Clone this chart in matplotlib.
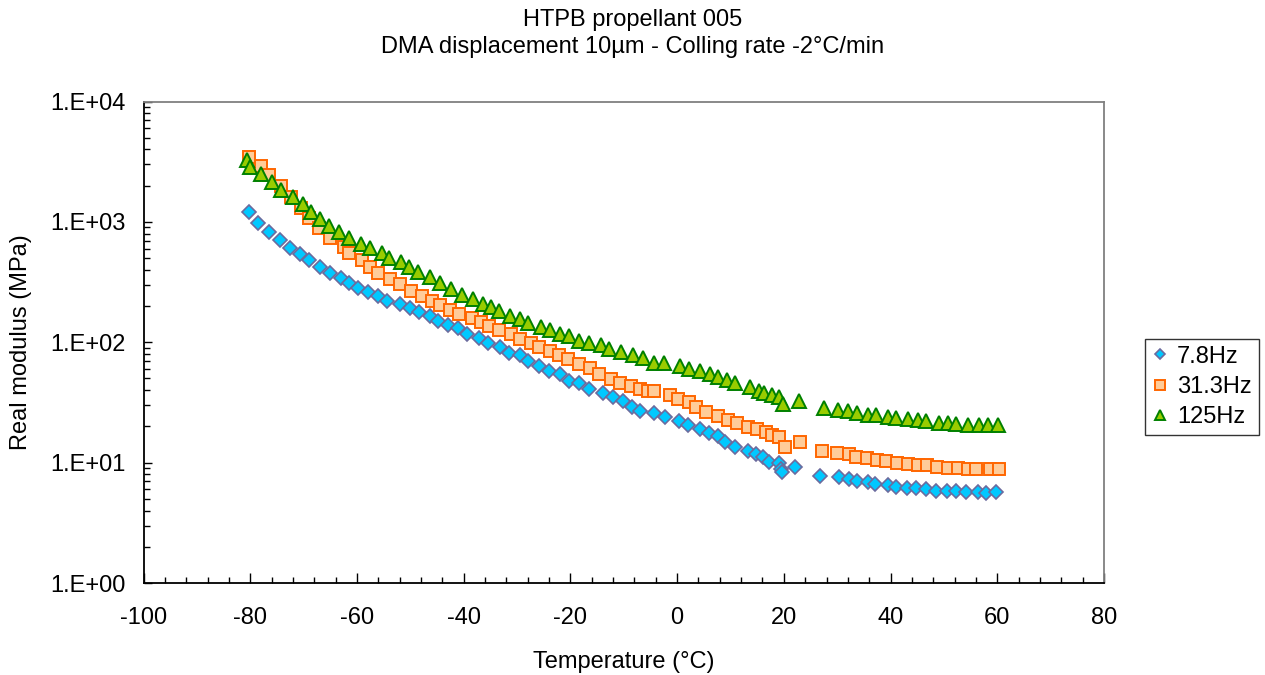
import matplotlib
matplotlib.use("Agg")
import matplotlib.pyplot as plt
from matplotlib.ticker import FixedLocator, LogLocator, NullFormatter
import numpy as np

plt.rcParams['font.family'] = ['Liberation Sans', 'DejaVu Sans']

title_lines = ["HTPB propellant 005", "DMA displacement 10\u00b5m - Colling rate -2\u00b0C/min"]
x_label = "Temperature (\u00b0C)"
y_label = "Real modulus (MPa)"
series_names = ["7.8Hz", "31.3Hz", "125Hz"]

temp_78 = [-80.3, -78.6, -76.5, -74.4, -72.6, -70.6, -69.0, -67.0, -65.1, -63.0,
           -61.4, -59.8, -57.9, -56.0, -54.3, -51.9, -50.0, -48.4, -46.3, -44.8,
           -43.0, -41.0, -39.3, -37.2, -35.4, -33.1, -31.5, -29.4, -27.9, -25.9,
           -24.1, -21.9, -20.2, -18.4, -16.5, -13.9, -12.0, -10.2, -8.5, -7.0,
           -4.4, -2.3, 0.3, 2.0, 4.2, 5.9, 7.7, 9.0, 10.8, 13.2,
           14.8, 16.1, 17.2, 19.1, 19.5, 19.7, 22.1, 26.7, 30.3, 32.2,
           33.8, 35.7, 37.1, 39.6, 41.1, 43.0, 44.8, 46.7, 48.6, 50.5,
           52.2, 54.1, 56.3, 57.8, 59.7]
mod_78 = [1197, 977, 827, 710, 609, 536, 478, 421, 378, 339,
          310, 283, 259, 240, 220, 208, 191, 177, 166, 151,
          140, 131, 117, 109, 99.5, 92.1, 82.1, 78.1, 69.6, 63.6,
          58.2, 54.6, 48.1, 45.7, 41.2, 37.7, 35.0, 32.4, 28.9, 26.8,
          25.7, 24.1, 22.1, 20.5, 18.9, 17.6, 16.7, 14.9, 13.6, 12.6,
          11.9, 11.1, 10.1, 9.9, 8.9, 8.3, 9.2, 7.75, 7.56, 7.28,
          7.0, 6.91, 6.65, 6.56, 6.32, 6.16, 6.16, 6.01, 5.85, 5.85,
          5.78, 5.71, 5.71, 5.63, 5.71]

temp_313 = [-80.3, -77.9, -76.4, -74.3, -72.3, -70.5, -68.9, -67.1, -65.1, -62.5,
            -61.4, -59.1, -57.6, -56.0, -53.8, -51.9, -49.8, -47.9, -46.0, -44.4,
            -42.6, -40.8, -38.5, -36.8, -35.2, -33.4, -31.2, -29.5, -27.4, -25.8,
            -23.9, -22.2, -20.4, -18.4, -16.3, -14.7, -12.3, -10.7, -8.7, -7.0,
            -5.4, -4.4, -1.4, 0.2, 2.2, 3.6, 5.5, 7.6, 9.6, 11.2,
            13.2, 14.9, 16.6, 17.7, 19.1, 20.3, 23.0, 27.1, 30.0, 32.2,
            33.5, 35.6, 37.5, 39.2, 41.3, 43.3, 45.2, 46.8, 48.7, 50.7,
            52.7, 54.5, 56.1, 58.7, 60.3]
mod_313 = [3459, 2925, 2449, 1968, 1607, 1310, 1067, 881, 738, 618,
           550, 484, 421, 375, 335, 302, 269, 243, 222, 203,
           186, 171, 160, 148, 137, 127, 116, 106, 99.5, 92.1,
           85.3, 79.1, 72.4, 66.1, 61.3, 54.6, 49.9, 46.2, 43.4, 41.2,
           39.7, 39.7, 36.3, 34.0, 32.0, 29.2, 26.4, 24.4, 22.6, 21.3,
           19.9, 18.9, 18.0, 17.1, 16.3, 13.6, 14.7, 12.6, 12.1, 11.7,
           11.1, 10.9, 10.5, 10.3, 10.0, 9.75, 9.62, 9.51, 9.26, 9.04,
           9.04, 8.91, 8.81, 8.91, 8.91]

temp_125 = [-80.6, -80.0, -77.9, -75.9, -74.3, -72.0, -70.1, -68.6, -67.0, -65.3,
            -63.4, -61.5, -59.3, -57.6, -55.3, -53.9, -51.8, -50.3, -48.6, -46.3,
            -44.4, -42.3, -40.3, -38.3, -36.4, -34.8, -33.3, -31.4, -29.5, -27.9,
            -25.5, -23.8, -22.0, -20.2, -18.3, -16.6, -14.3, -12.8, -10.5, -8.3,
            -6.4, -4.4, -2.4, 0.5, 2.2, 4.2, 6.2, 7.7, 9.3, 10.8,
            13.6, 15.3, 16.2, 17.8, 19.1, 19.8, 22.8, 27.5, 30.2, 32.1,
            33.8, 35.8, 37.3, 39.6, 41.1, 43.2, 45.2, 46.6, 49.0, 50.8,
            52.3, 54.6, 56.5, 58.2, 60.1]
mod_125 = [3238, 2856, 2512, 2155, 1849, 1607, 1395, 1213, 1055, 928,
           827, 738, 649, 601, 550, 503, 460, 421, 380, 348,
           312, 279, 249, 228, 206, 196, 181, 166, 156, 144,
           134, 127, 117, 112, 103, 98.4, 94.6, 88.7, 83.2, 78.1,
           74.2, 67.0, 67.0, 63.6, 60.4, 57.5, 54.6, 51.9, 48.7, 45.7,
           42.4, 39.4, 38.2, 36.7, 35.4, 30.8, 32.8, 28.5, 27.4, 26.8,
           25.7, 25.1, 24.8, 23.9, 23.5, 22.9, 22.6, 22.1, 21.5, 21.3,
           21.0, 20.7, 20.5, 20.5, 20.5]

x_ticks = [-100, -80, -60, -40, -20, 0, 20, 40, 60, 80]
y_ticks = [1, 10, 100, 1000, 10000]
y_tick_labels = ["1.E+00", "1.E+01", "1.E+02", "1.E+03", "1.E+04"]

W, H = 1265, 675
fig = plt.figure(figsize=(W / 100, H / 100), dpi=100)
ax = fig.add_axes([143.5 / W, 1 - 583 / H, (1104 - 143.5) / W, (583 - 101.5) / H])

styles = [
    dict(marker='D', markersize=7.6, markerfacecolor='#00C8FF', markeredgecolor='#6B6B9E', markeredgewidth=1.2),
    dict(marker='s', markersize=9.3, markerfacecolor='#FFCC99', markeredgecolor='#FF6600', markeredgewidth=1.4),
    dict(marker='^', markersize=9.8, markerfacecolor='#99CC00', markeredgecolor='#008000', markeredgewidth=1.4),
]
data = [(temp_78, mod_78), (temp_313, mod_313), (temp_125, mod_125)]
handles = []
for (t, m), name, st in zip(data, series_names, styles):
    h, = ax.plot(t, m, linestyle='none', label=name, **st)
    handles.append(h)

ax.set_yscale('log')
ax.set_xlim(-100, 80)
ax.set_ylim(1, 10000)
ax.xaxis.set_major_locator(FixedLocator(x_ticks))
ax.xaxis.set_minor_locator(FixedLocator(np.arange(-100, 81, 4)))
ax.yaxis.set_major_locator(FixedLocator(y_ticks))
ax.yaxis.set_minor_locator(LogLocator(base=10, subs=np.arange(2, 10)))
ax.yaxis.set_minor_formatter(NullFormatter())
ax.set_yticklabels(y_tick_labels)
ax.set_xticklabels([str(v) for v in x_ticks])

ax.tick_params(axis='both', which='both', direction='in', color='black', top=False, right=False)
ax.tick_params(axis='x', which='major', length=7, width=1, pad=17, labelsize=17)
ax.tick_params(axis='x', which='minor', length=4.5, width=1)
ax.tick_params(axis='y', which='major', length=6, width=1, pad=13, labelsize=17)
ax.tick_params(axis='y', which='minor', length=4, width=1)

for s in ['left', 'bottom']:
    ax.spines[s].set_color('black')
    ax.spines[s].set_linewidth(1.3)
for s in ['top', 'right']:
    ax.spines[s].set_color('#808080')
    ax.spines[s].set_linewidth(1.3)

ax.set_xlabel(x_label, fontsize=17, labelpad=16)
ax.set_ylabel(y_label, fontsize=17, labelpad=13)

fig.text(0.5, 1 - 20 / H, title_lines[0], ha='center', va='center', fontsize=17)
fig.text(0.5, 1 - 47 / H, title_lines[1], ha='center', va='center', fontsize=17)

leg = fig.legend(handles=handles, labels=series_names, loc='center left',
                 bbox_to_anchor=(1145 / W, 1 - 387 / H), frameon=True, fancybox=False,
                 edgecolor='black', fontsize=17, handlelength=0.7, handletextpad=0.35,
                 labelspacing=0.35, borderpad=0.3, borderaxespad=0, markerscale=0.7)
leg.get_frame().set_linewidth(1.0)

fig.savefig('out.png', dpi=100)
